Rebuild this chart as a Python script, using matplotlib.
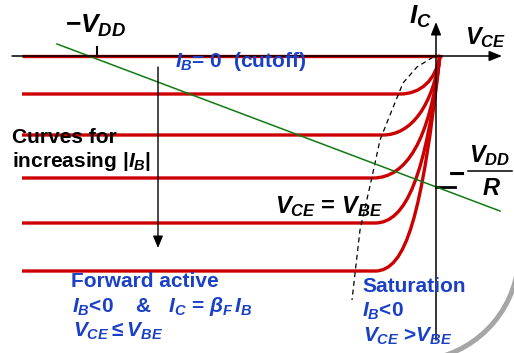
import matplotlib
matplotlib.use("Agg")
import matplotlib.pyplot as plt
from matplotlib.path import Path
from matplotlib.patches import PathPatch, Arc

plt.rcParams['font.family'] = ['Liberation Sans', 'DejaVu Sans']
plt.rcParams['font.weight'] = 'bold'
plt.rcParams['mathtext.fontset'] = 'custom'
plt.rcParams['mathtext.rm'] = 'Liberation Sans:bold'
plt.rcParams['mathtext.it'] = 'Liberation Sans:italic:bold'
plt.rcParams['mathtext.bf'] = 'Liberation Sans:bold'

RED = '#cc0000'
BLUE = '#1a40c8'
GREEN = '#117a11'

# chart data (V_CE horizontal, I_C vertical, arbitrary units)
v_start = -41.4
v_end = 0.4
i_end = 0.1
curve_levels = [-3.8, -7.9, -12.2, -16.7, -21.5]   # I_C for increasing |I_B|
knee_v = [-3.6, -5.3, -6.3, -6.1, -6.1]
bend_v = [-1.6, -2.5, -3.0, -3.0, -3.0]
steep_v = [0.0, -0.3, -0.6, -1.0, -1.4]
steep_i = [-2.5, -5.0, -8.5, -12.0, -16.0]

# V_CE = V_BE boundary (dashed)
edge_v = [-0.3, -0.6, -1.9, -3.3, -4.4, -5.6, -6.4, -7.6, -8.4]
edge_i = [-0.1, -0.3, -1.1, -2.7, -5.4, -8.4, -12.1, -17.4, -24.4]

# load line
load_v = [-37.9, 6.4]
load_i = [1.2, -15.5]
vdd = -33.9
vdd_r = -13.1

fig = plt.figure(figsize=(5.14, 3.53), dpi=100)
ax = fig.add_axes([0, 0, 1, 1])
ax.set_xlim(-43.6, 7.8)
ax.set_ylim(-29.7, 5.6)
ax.axis('off')

# axes with arrows
ax.annotate('', xy=(6.6, 0), xytext=(-42.4, 0),
            arrowprops=dict(arrowstyle='-|>,head_length=0.55,head_width=0.22',
                            mutation_scale=14, lw=1.1, color='black', shrinkA=0, shrinkB=0))
ax.annotate('', xy=(0, 3.4), xytext=(0, -28.4),
            arrowprops=dict(arrowstyle='-|>,head_length=0.55,head_width=0.22',
                            mutation_scale=14, lw=1.1, color='black', shrinkA=0, shrinkB=0))

# ticks for -VDD and -VDD/R
ax.plot([vdd, vdd], [0, 0.9], color='black', lw=1.5)
ax.plot([0, 1.9], [vdd_r, vdd_r], color='black', lw=2)

# I_B = 0 line
ax.plot([v_start, v_end + 0.2], [0, 0], color=RED, lw=2.4, solid_capstyle='butt')

for lev, kv, bv, sv, si in zip(curve_levels, knee_v, bend_v, steep_v, steep_i):
    verts = [(v_start, lev), (kv, lev), (bv, lev), (sv, si), (v_end, i_end)]
    codes = [Path.MOVETO, Path.LINETO, Path.CURVE4, Path.CURVE4, Path.CURVE4]
    ax.add_patch(PathPatch(Path(verts, codes), fill=False, edgecolor=RED,
                           lw=2.4, capstyle='butt'))

ax.plot(edge_v, edge_i, color='black', lw=0.9, ls=(0, (4, 3)))
ax.plot(load_v, load_i, color=GREEN, lw=1.1)

# increasing |I_B| arrow
ax.annotate('', xy=(-27.8, -19.2), xytext=(-27.8, -1.1),
            arrowprops=dict(arrowstyle='-|>,head_length=0.6,head_width=0.25',
                            mutation_scale=12, lw=1.0, color='black', shrinkA=0, shrinkB=0))

# slide decoration arc
ax.add_patch(Arc((-2.5, -19.7), 21.6, 21.6, theta1=-80, theta2=0,
                 color='#a6a6a6', lw=3.6))

# labels
ax.text(-37.1, 2.3, r'$-V_{DD}$', fontsize=19, va='baseline')
ax.text(-2.7, 3.2, r'$I_C$', fontsize=19, va='baseline')
ax.text(2.9, 1.2, r'$V_{CE}$', fontsize=17, va='baseline')
ax.text(-26.1, -1.1, r'$I_B$= 0  (cutoff)', fontsize=15, color=BLUE, va='baseline')
ax.text(-42.4, -8.7, 'Curves for', fontsize=15, va='baseline')
ax.text(-42.4, -11.1, r'increasing |$I_B$|', fontsize=15, va='baseline')
ax.text(-16.1, -15.7, r'$V_{CE}$ = $V_{BE}$', fontsize=17, va='baseline')
ax.text(-36.5, -23.1, 'Forward active', fontsize=15, color=BLUE, va='baseline')
ax.text(-36.4, -25.6, r'$I_B$<0    &   $I_C$ = $\beta_F\,I_B$', fontsize=15,
        color=BLUE, va='baseline')
ax.text(-36.3, -28.1, r'$V_{CE}\leq V_{BE}$', fontsize=15, color=BLUE, va='baseline')
ax.text(-7.4, -23.6, 'Saturation', fontsize=15, color=BLUE, va='baseline')
ax.text(-7.4, -26.1, r'$I_B$<0', fontsize=15, color=BLUE, va='baseline')
ax.text(-7.3, -28.6, r'$V_{CE}$ >$V_{BE}$', fontsize=15, color=BLUE, va='baseline')

# -VDD/R label
ax.text(2.1, -12.7, '\u2212', fontsize=20, ha='center', va='baseline')
ax.plot([3.2, 7.6], [-11.5, -11.5], color='black', lw=1.1)
ax.text(5.4, -10.6, r'$V_{DD}$', fontsize=17, ha='center', va='baseline')
ax.text(5.5, -13.9, r'$R$', fontsize=17, ha='center', va='baseline')

fig.savefig('out.png', dpi=100)
